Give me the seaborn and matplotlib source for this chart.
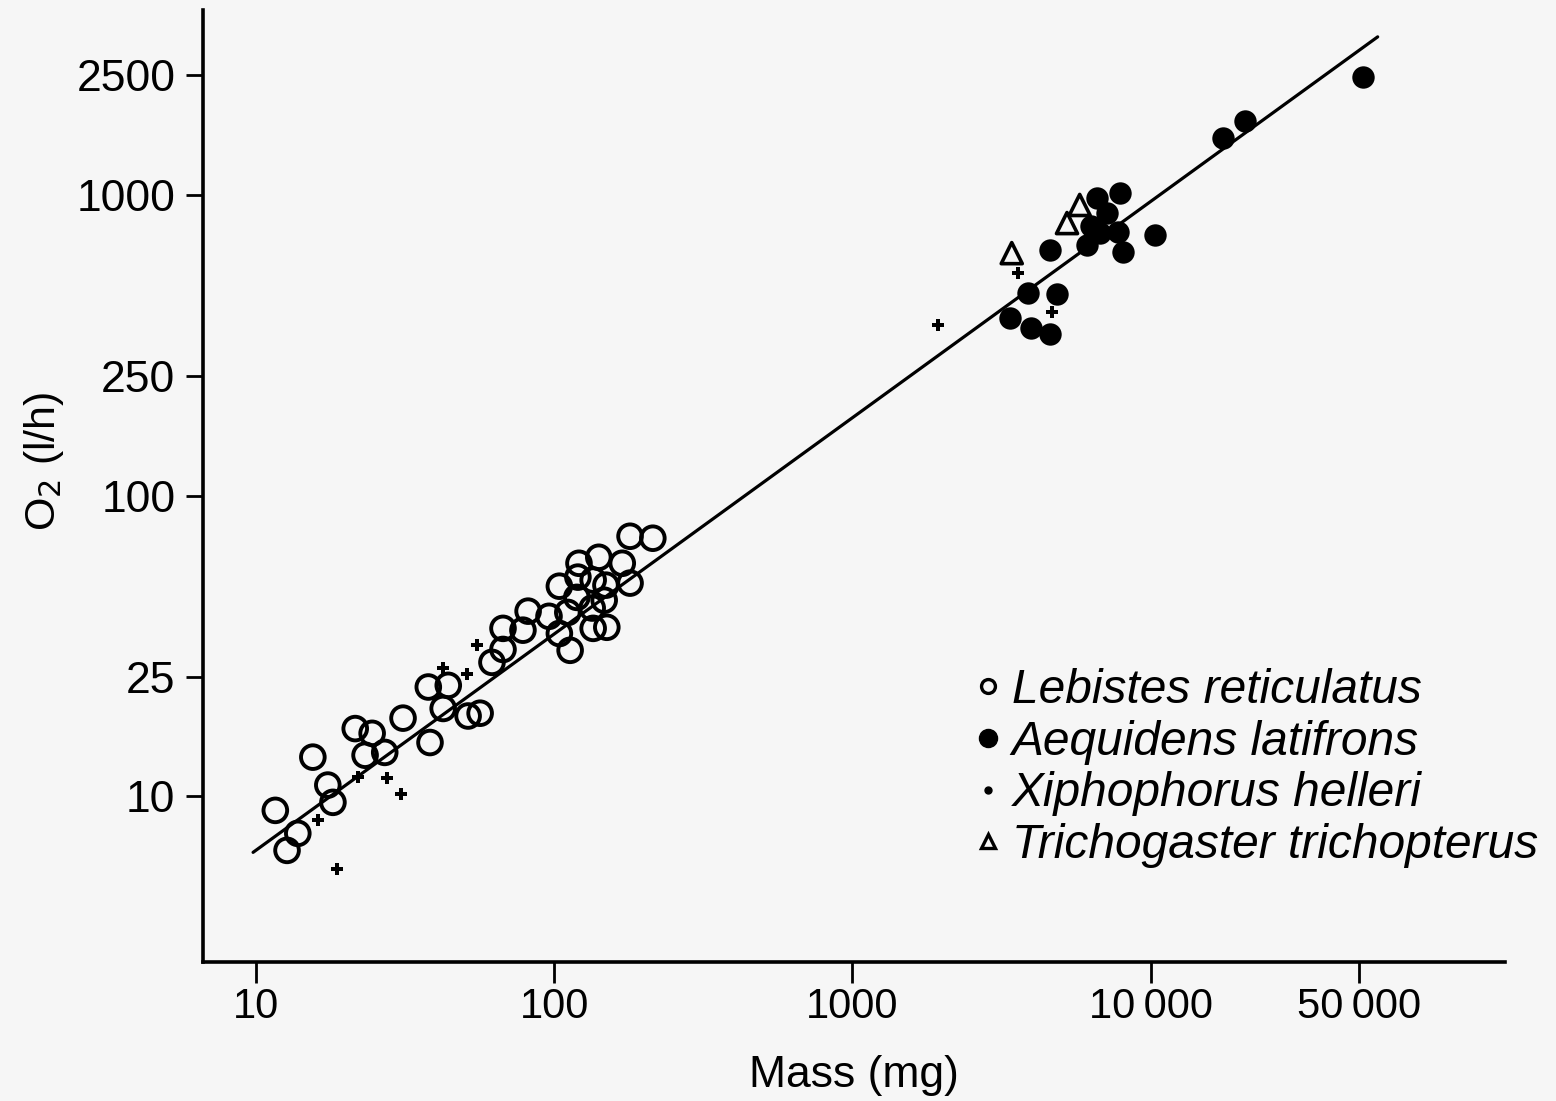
import numpy as np
import pandas as pd
import seaborn as sns
import matplotlib.pyplot as plt
from matplotlib.lines import Line2D

# === DATA ===
lebistes_mass = [179.5, 214, 141, 169, 121, 120, 135, 149, 104, 179.5, 119, 147, 134, 111,
                 96, 81.7, 67.3, 78.5, 104, 135, 150, 113, 67.3, 61.8, 37.8, 44.1, 42.4,
                 31.1, 51.4, 56.4, 21.5, 24.5, 38.3, 23.2, 27.0, 15.5, 17.4, 18.1, 11.6,
                 13.8, 12.7]
lebistes_o2 = [73.3, 72.2, 62.4, 59.6, 59.6, 53.6, 52.4, 50.4, 50.0, 51.2, 45.9, 44.9, 42.3,
               40.9, 39.7, 41.3, 36.2, 35.7, 34.8, 36.2, 36.5, 30.6, 30.8, 27.9, 23.1, 23.4,
               19.6, 18.2, 18.5, 18.9, 16.8, 16.2, 15.1, 13.7, 14.0, 13.5, 10.9, 9.55, 8.98,
               7.53, 6.61]

aequidens_mass = [51400, 20700, 17450, 7870, 6590, 7120, 6300, 6740, 7760, 10330, 6110,
                  4590, 8050, 3870, 4840, 3370, 3960, 4590]
aequidens_o2 = [2470, 1762, 1549, 1016, 977, 871, 788, 748, 754, 736, 682, 656, 646, 472,
                469, 390, 361, 345]

xipho_mass = [3580, 4660, 1932, 55.1, 42.4, 50.9, 22.0, 27.5, 30.6, 16.1, 18.7]
xipho_o2 = [550, 408, 369, 31.8, 26.7, 25.5, 11.6, 11.5, 10.2, 8.32, 5.71]

tricho_mass = [5780, 5240, 3420]
tricho_o2 = [927, 807, 641]

# regression line end points
line_mass = [9.77, 57700]
line_o2 = [6.51, 3360]

x_ticks = [10, 100, 1000, 10000, 50000]
x_labels = ["10", "100", "1000", "10\u2009000", "50\u2009000"]
y_ticks = [10, 25, 100, 250, 1000, 2500]
y_labels = ["10", "25", "100", "250", "1000", "2500"]

species = ["Lebistes reticulatus", "Aequidens latifrons",
           "Xiphophorus helleri", "Trichogaster trichopterus"]

df = pd.concat([
    pd.DataFrame({"mass": lebistes_mass, "o2": lebistes_o2, "species": species[0]}),
    pd.DataFrame({"mass": aequidens_mass, "o2": aequidens_o2, "species": species[1]}),
    pd.DataFrame({"mass": xipho_mass, "o2": xipho_o2, "species": species[2]}),
    pd.DataFrame({"mass": tricho_mass, "o2": tricho_o2, "species": species[3]}),
], ignore_index=True)

# === STYLE ===
sns.set_style("ticks")
plt.rcParams['font.family'] = ['Liberation Sans', 'DejaVu Sans']
for k in ['text.color', 'axes.labelcolor', 'xtick.color', 'ytick.color', 'axes.edgecolor']:
    plt.rcParams[k] = 'black'
bg = '#f6f6f6'

fig = plt.figure(figsize=(15.56, 11.01), dpi=100, facecolor=bg)
ax = fig.add_axes([0.1305, 0.1262, 0.8365, 0.8648], facecolor=bg)

ax.set_xscale('log')
ax.set_yscale('log')

# fitted line
sns.lineplot(x=line_mass, y=line_o2, ax=ax, color='black', linewidth=2.3)

styles = {
    species[0]: dict(marker='o', s=290, facecolors='none', edgecolors='black', linewidths=2.8),
    species[1]: dict(marker='o', s=260, color='black', edgecolors='black', linewidths=0),
    species[2]: dict(marker='P', s=80, color='black', edgecolors='black', linewidths=0),
    species[3]: dict(marker='^', s=230, facecolors='none', edgecolors='black', linewidths=2.6),
}
for sp in species:
    sub = df[df['species'] == sp]
    sns.scatterplot(data=sub, x='mass', y='o2', ax=ax, legend=False, **styles[sp])

ax.set_xlim(6.64, 153800)
ax.set_ylim(2.81, 4130)

ax.set_xticks(x_ticks)
ax.set_xticklabels(x_labels, fontsize=30)
ax.set_yticks(y_ticks)
ax.set_yticklabels(y_labels, fontsize=32)
ax.minorticks_off()
ax.tick_params(axis='x', length=15, width=2, pad=3, direction='out')
ax.tick_params(axis='y', length=12, width=2, pad=8, direction='out')

sns.despine(ax=ax)
for s in ['left', 'bottom']:
    ax.spines[s].set_linewidth(2.6)

ax.set_xlabel("Mass (mg)", fontsize=32, labelpad=20)
ax.set_ylabel(r"O$_2$ (l/h)", fontsize=31)
ax.yaxis.set_label_coords(-0.105, 0.526)

# legend with small markers like the original
handles = [
    Line2D([], [], marker='o', ls='none', ms=10, mfc='none', mec='black', mew=2.4),
    Line2D([], [], marker='o', ls='none', ms=13, color='black'),
    Line2D([], [], marker='o', ls='none', ms=5, color='black'),
    Line2D([], [], marker='^', ls='none', ms=10, mfc='none', mec='black', mew=2.4),
]
leg = ax.legend(handles, species, loc='upper left', bbox_to_anchor=(0.579, 0.329),
                frameon=False, handlelength=0.5, handletextpad=0.25, labelspacing=0.14,
                borderaxespad=0, prop={'style': 'italic', 'size': 34.5})

fig.savefig("out.png", dpi=100, facecolor=bg)
